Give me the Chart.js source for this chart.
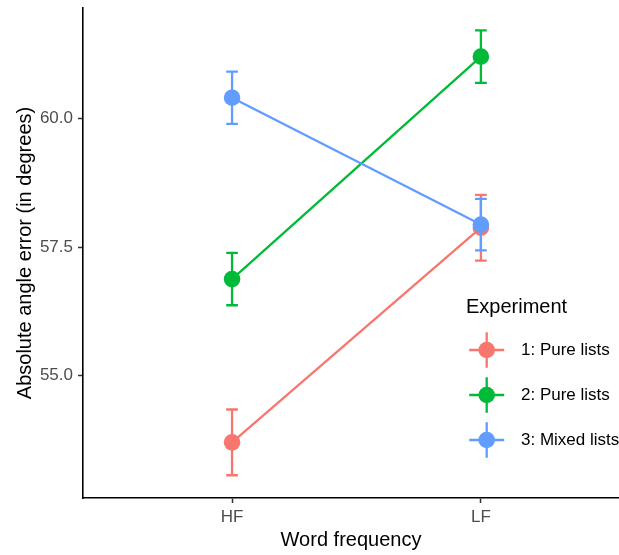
<!DOCTYPE html>
<html>
<head>
<meta charset="utf-8">
<script src="https://cdn.jsdelivr.net/npm/chart.js@4/dist/chart.umd.min.js"></script>
<style>
  html, body { margin: 0; padding: 0; background: #fff; }
  canvas { display: block; }
</style>
</head>
<body>
<canvas id="chart" width="619" height="555"></canvas>
<script>
// data
const categories = ['HF', 'LF'];
const experiments = ['1: Pure lists', '2: Pure lists', '3: Mixed lists'];
const colors = ['#F8766D', '#00BA38', '#619CFF'];
const means1 = [53.70, 57.88];
const errs1 = [0.64, 0.64];
const means2 = [56.88, 61.21];
const errs2 = [0.51, 0.51];
const means3 = [60.41, 57.94];
const errs3 = [0.51, 0.50];
const yTicks = [55, 57.5, 60];

const allMeans = [means1, means2, means3];
const allErrs = [errs1, errs2, errs3];
const FONT = '"Liberation Sans", Arial, sans-serif';

const datasets = allMeans.map((m, i) => ({
    label: experiments[i],
    data: m.map((v, j) => ({ x: j + 1, y: v })),
    borderColor: colors[i],
    backgroundColor: colors[i],
    borderWidth: 2.3,
    pointRadius: 8.3,
    pointBorderWidth: 0,
    pointHoverRadius: 8.3,
    order: 3 - i,
    errs: allErrs[i]
}));

// error bars, drawn through the chart's own scales
const errorBars = {
    id: 'errorBars',
    afterDatasetsDraw(chart) {
        const ctx = chart.ctx;
        const xs = chart.scales.x, ys = chart.scales.y;
        ctx.save();
        ctx.lineWidth = 2.3;
        chart.data.datasets.forEach((ds) => {
            ctx.strokeStyle = ds.borderColor;
            ds.data.forEach((p, j) => {
                const e = ds.errs[j];
                const x = xs.getPixelForValue(p.x);
                const x0 = xs.getPixelForValue(p.x - 0.0235);
                const x1 = xs.getPixelForValue(p.x + 0.0235);
                const yLo = ys.getPixelForValue(p.y - e);
                const yHi = ys.getPixelForValue(p.y + e);
                ctx.beginPath();
                ctx.moveTo(x, yLo); ctx.lineTo(x, yHi);
                ctx.moveTo(x0, yLo); ctx.lineTo(x1, yLo);
                ctx.moveTo(x0, yHi); ctx.lineTo(x1, yHi);
                ctx.stroke();
            });
        });
        ctx.restore();
    }
};

// ggplot-style legend sitting inside the panel
const panelLegend = {
    id: 'panelLegend',
    afterDraw(chart) {
        const ctx = chart.ctx;
        ctx.save();
        ctx.fillStyle = '#000';
        ctx.textBaseline = 'middle';
        ctx.textAlign = 'left';
        ctx.font = '20px ' + FONT;
        ctx.fillText('Experiment', 466, 307);
        ctx.font = '17px ' + FONT;
        experiments.forEach((name, i) => {
            const cx = 486.7, cy = 350 + i * 45;
            ctx.strokeStyle = colors[i];
            ctx.fillStyle = colors[i];
            ctx.lineWidth = 2.3;
            ctx.beginPath();
            ctx.moveTo(cx - 17.5, cy); ctx.lineTo(cx + 17.5, cy);
            ctx.moveTo(cx, cy - 17.8); ctx.lineTo(cx, cy + 17.8);
            ctx.stroke();
            ctx.beginPath();
            ctx.arc(cx, cy, 8.3, 0, Math.PI * 2);
            ctx.fill();
            ctx.fillStyle = '#000';
            ctx.fillText(name, 521, cy);
        });
        ctx.restore();
    }
};

new Chart(document.getElementById('chart'), {
    type: 'line',
    data: { datasets: datasets },
    plugins: [errorBars, panelLegend],
    options: {
        responsive: false,
        animation: false,
        devicePixelRatio: 1,
        layout: { autoPadding: false, padding: { top: 8, right: 0, left: 0, bottom: 0 } },
        plugins: {
            legend: { display: false },
            tooltip: { enabled: false }
        },
        scales: {
            x: {
                type: 'linear',
                min: 0.401,
                max: 2.555,
                afterBuildTicks: (s) => { s.ticks = categories.map((c, j) => ({ value: j + 1 })); },
                afterFit: (s) => {
                    s.height = 57;
                    s.paddingLeft = 0;
                    s.paddingRight = 0;
                },
                ticks: {
                    callback: (v) => categories[v - 1] || '',
                    color: '#4D4D4D',
                    font: { family: FONT, size: 17 },
                    padding: 4,
                    maxRotation: 0
                },
                grid: {
                    drawOnChartArea: false,
                    drawTicks: true,
                    tickLength: 5,
                    tickColor: '#333333',
                    tickWidth: 1.5
                },
                border: { display: true, color: '#000', width: 1.6 },
                title: {
                    display: true,
                    text: 'Word frequency',
                    color: '#000',
                    font: { family: FONT, size: 20 },
                    padding: { top: 0, bottom: 3 }
                }
            },
            y: {
                min: 52.617,
                max: 62.157,
                afterBuildTicks: (s) => { s.ticks = yTicks.map((v) => ({ value: v })); },
                afterFit: (s) => {
                    s.width = 83;
                    s.paddingTop = 0;
                    s.paddingBottom = 0;
                },
                ticks: {
                    callback: (v) => Number(v).toFixed(1),
                    color: '#4D4D4D',
                    font: { family: FONT, size: 17 },
                    padding: 5
                },
                grid: {
                    drawOnChartArea: false,
                    drawTicks: true,
                    tickLength: 5,
                    tickColor: '#333333',
                    tickWidth: 1.5
                },
                border: { display: true, color: '#000', width: 1.6 },
                title: {
                    display: true,
                    text: 'Absolute angle error (in degrees)',
                    color: '#000',
                    font: { family: FONT, size: 20 },
                    padding: { top: 13, bottom: 0 }
                }
            }
        }
    }
});
</script>
</body>
</html>
